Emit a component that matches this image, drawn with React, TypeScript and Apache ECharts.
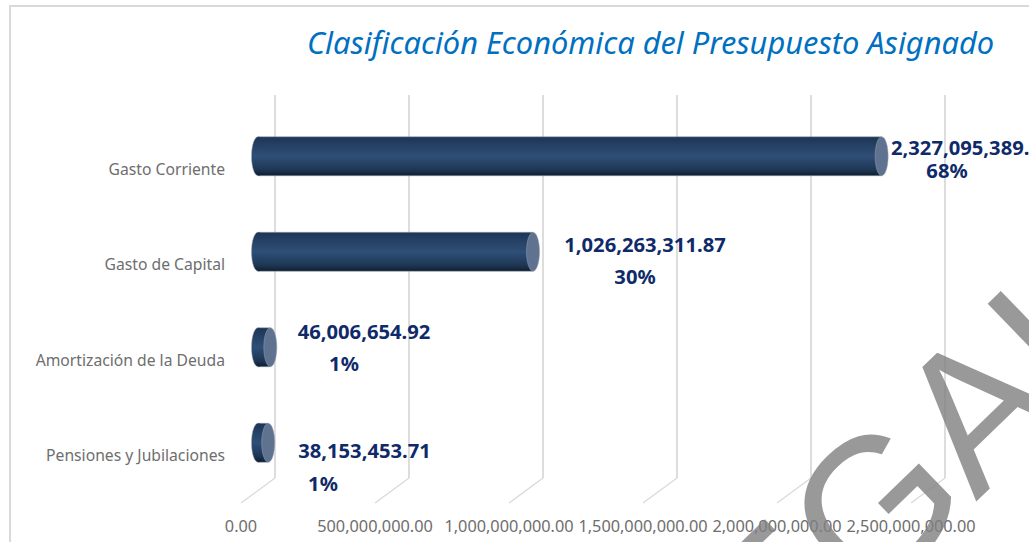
import React, { useEffect, useRef } from "react";
import * as echarts from "echarts";

const categories = ["Gasto Corriente", "Gasto de Capital", "Amortización de la Deuda", "Pensiones y Jubilaciones"];
const values = [2327095389, 1026263311.87, 46006654.92, 38153453.71];
const valueLabels = ["2,327,095,389.", "1,026,263,311.87", "46,006,654.92", "38,153,453.71"];
const shares = ["68%", "30%", "1%", "1%"];
const ticks = [0, 500000000, 1000000000, 1500000000, 2000000000, 2500000000];
const titleText = "Clasificación Económica del Presupuesto Asignado";
const watermark = "LEGAL";

// Layout only: hand-placed label anchors, as [valueX, valueY, shareX, shareY]
const labelAnchors = [
  [891, 147, 947, 170],
  [645, 244, 635, 276],
  [364, 331, 344, 363],
  [364.5, 450, 323, 483],
];
const FONT = '"Noto Sans", sans-serif';

export default function App() {
  const ref = useRef<HTMLDivElement>(null);
  useEffect(() => {
    const chart = echarts.init(ref.current!, null, { renderer: "svg" });
    const depthX = 34;
    const depthY = 25;
    chart.setOption({
      animation: false,
      backgroundColor: "#ffffff",
      title: {
        text: titleText,
        left: 307,
        top: 26,
        padding: 0,
        textStyle: { fontFamily: FONT, fontStyle: "italic", fontWeight: "normal", fontSize: 30.8, color: "#0070C0" },
      },
      grid: { left: 241, width: 670, top: 121, height: 382 },
      xAxis: {
        type: "value",
        min: 0,
        max: 2500000000,
        interval: 500000000,
        splitLine: { show: false },
        axisLine: { show: false },
        axisTick: { show: false },
        axisLabel: {
          margin: 15,
          fontFamily: FONT,
          fontSize: 16.3,
          color: "#6E6E6E",
          hideOverlap: false,
          formatter: (v: number) =>
            v.toLocaleString("en-US", { minimumFractionDigits: 2, maximumFractionDigits: 2 }),
        },
      },
      yAxis: {
        type: "category",
        inverse: true,
        data: categories,
        axisLine: { show: false },
        axisTick: { show: false },
        axisLabel: { margin: 16, fontFamily: FONT, fontSize: 15.7, color: "#6E6E6E" },
      },
      series: [
        {
          type: "custom",
          z: 1,
          data: ticks.map((t) => [t, 0]),
          silent: true,
          encode: { x: 0, y: 1 },
          renderItem: (params: any, api: any) => {
            const x = api.coord([api.value(0), 0])[0];
            const cs = params.coordSys;
            const bottom = cs.y + cs.height;
            return {
              type: "group",
              children: [
                {
                  type: "line",
                  shape: { x1: x, y1: bottom, x2: x + depthX, y2: bottom - depthY },
                  style: { stroke: "#D9D9D9", lineWidth: 1.25 },
                },
                {
                  type: "line",
                  shape: { x1: x + depthX, y1: bottom - depthY, x2: x + depthX, y2: cs.y - 26 },
                  style: { stroke: "#D9D9D9", lineWidth: 1.75 },
                },
              ],
            };
          },
        },
        {
          type: "custom",
          z: 3,
          data: values.map((v, i) => [v, i]),
          encode: { x: 0, y: 1 },
          renderItem: (_params: any, api: any) => {
            const i = api.value(1);
            const [x1, yc] = api.coord([api.value(0), i]);
            const x0 = api.coord([0, i])[0];
            const cx0 = x0 + 17;
            const cx1 = x1 + 17;
            const cy = yc - 12.5;
            const ry = 19.5;
            const rx = 6.5;
            const grad = new echarts.graphic.LinearGradient(0, 0, 0, 1, [
              { offset: 0, color: "#1D3555" },
              { offset: 0.5, color: "#2F4F77" },
              { offset: 0.85, color: "#1D3654" },
              { offset: 1, color: "#101E2E" },
            ]);
            const a = labelAnchors[i];
            const textBase = { fontFamily: FONT, fontWeight: "bold", fontSize: 20.2, fill: "#0F2A69", textVerticalAlign: "middle", verticalAlign: "middle" };
            return {
              type: "group",
              children: [
                { type: "ellipse", shape: { cx: cx0, cy, rx, ry }, style: { fill: grad, stroke: "#9AA5B3", lineWidth: 0.5 } },
                { type: "rect", shape: { x: cx0, y: cy - ry, width: cx1 - cx0, height: ry * 2 }, style: { fill: grad, stroke: "#9AA5B3", lineWidth: 0.5 } },
                { type: "ellipse", shape: { cx: cx0 + 1, cy, rx, ry: ry - 0.3 }, style: { fill: grad } },
                { type: "ellipse", shape: { cx: cx1, cy, rx, ry }, style: { fill: "#5F7390", stroke: "#9AA5B3", lineWidth: 0.5 } },
                {
                  type: "text",
                  style: { ...textBase, text: valueLabels[i], x: a[0], y: a[1], textAlign: i === 0 ? "left" : "center", align: i === 0 ? "left" : "center" },
                },
                {
                  type: "text",
                  style: { ...textBase, text: shares[i], x: a[2], y: a[3], textAlign: "center", align: "center" },
                },
              ],
            };
          },
        },
      ],
      graphic: [
        {
          type: "rect",
          z: 0,
          silent: true,
          shape: { x: 10, y: 6, width: 1100, height: 600 },
          style: { fill: "none", stroke: "#D9D9D9", lineWidth: 2 },
        },
        {
          type: "text",
          z: 100,
          silent: true,
          x: 716,
          y: 794,
          rotation: (44 * Math.PI) / 180,
          style: {
            text: watermark,
            fontFamily: '"Liberation Sans", sans-serif',
            fontSize: 195,
            fill: "rgba(128,128,128,0.8)",
            textAlign: "left",
            textVerticalAlign: "bottom",
            align: "left",
            verticalAlign: "bottom",
          },
        },
      ],
    });
    return () => chart.dispose();
  }, []);
  return (
    <div
      ref={ref}
      style={{ position: "fixed", left: 0, top: 0, width: 1029, height: 542, overflow: "hidden" }}
    />
  );
}
